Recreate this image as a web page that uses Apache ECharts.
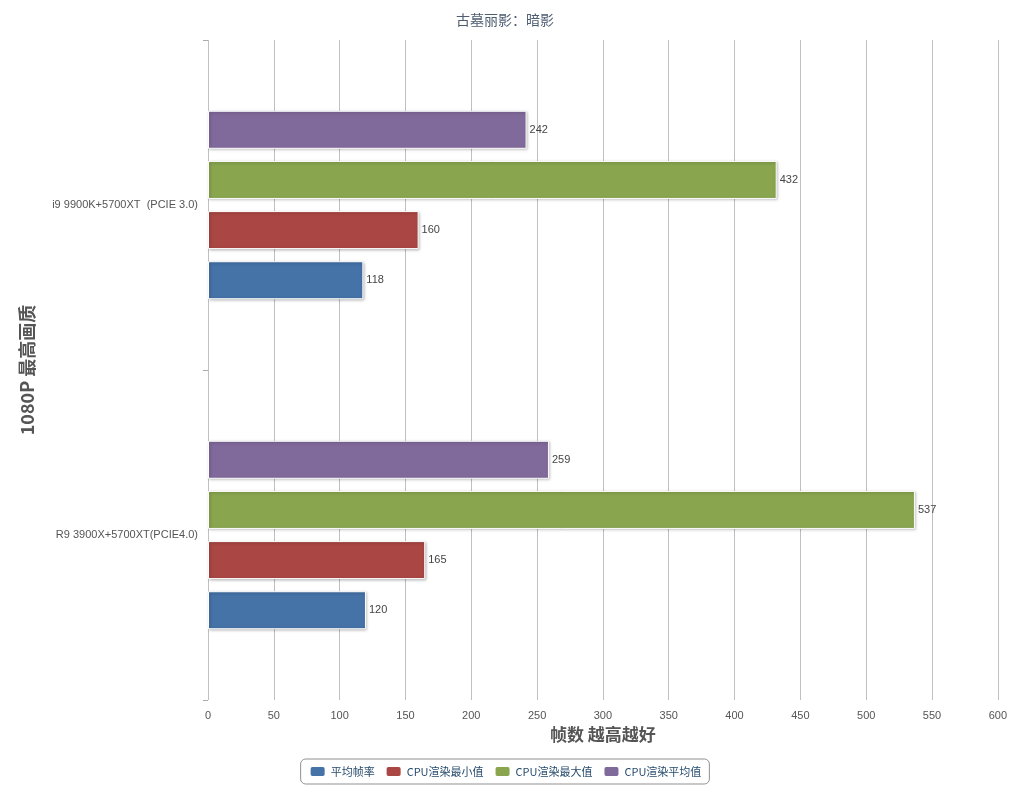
<!DOCTYPE html>
<html><head><meta charset="utf-8">
<script src="https://cdn.jsdelivr.net/npm/echarts@6/dist/echarts.min.js"></script>
<style>html,body{margin:0;padding:0;background:#fff}#c{width:1010px;height:800px}</style>
</head><body><div id="c"></div>
<script>
const categories = ['R9 3900X+5700XT(PCIE4.0)', 'i9 9900K+5700XT  (PCIE 3.0)'];
const seriesNames = ['平均帧率', 'CPU渲染最小值', 'CPU渲染最大值', 'CPU渲染平均值'];
const avgFps = [120, 118];
const cpuMin = [165, 160];
const cpuMax = [537, 432];
const cpuAvg = [259, 242];
const colors = ['#4572A7', '#AA4643', '#89A54E', '#80699B'];
const values = [avgFps, cpuMin, cpuMax, cpuAvg];
const order = [3, 2, 1, 0];
const chart = echarts.init(document.getElementById('c'));
chart.setOption({
  animation: false,
  title: {text: '古墓丽影：暗影', left: 'center', top: 8, textStyle: {fontSize: 14, fontWeight: 'normal', color: '#4d5d70', fontFamily: 'Noto Sans CJK SC'}},
  grid: {left: 208, right: 11, top: 40, bottom: 100},
  legend: {bottom: 16, itemWidth: 16, itemHeight: 11, itemGap: 10, borderColor: '#909090', borderWidth: 1, borderRadius: 5, padding: [6, 8],
    textStyle: {fontSize: 11, color: '#274b6d', fontFamily: 'Noto Sans CJK SC'}, icon: 'roundRect', data: seriesNames},
  xAxis: {type: 'value', min: 0, max: 600, interval: 50, name: '帧数 越高越好', nameLocation: 'middle', nameGap: 20,
    nameTextStyle: {fontSize: 17, fontWeight: 'bold', color: '#555', fontFamily: 'Noto Sans CJK SC'},
    axisLine: {show: false}, axisTick: {show: false},
    axisLabel: {color: '#555', fontSize: 11, margin: 10},
    splitLine: {lineStyle: {color: '#c0c0c0'}}},
  yAxis: {type: 'category', data: categories, name: '1080P 最高画质', nameLocation: 'middle', nameGap: 172, nameRotate: 90,
    nameTextStyle: {fontSize: 18, fontWeight: 'bold', color: '#555', fontFamily: 'Noto Sans CJK SC'},
    axisLine: {show: false}, axisTick: {show: true, length: 5, lineStyle: {color: '#aaa'}},
    axisLabel: {color: '#555', fontSize: 11, margin: 10}},
  series: order.map(i => ({
    name: seriesNames[i], type: 'bar', data: values[i], barWidth: 38, barGap: '32%',
    itemStyle: {color: colors[i], borderColor: '#fff', borderWidth: 1, shadowColor: 'rgba(0,0,0,0.3)', shadowBlur: 3, shadowOffsetX: 1, shadowOffsetY: 1},
    label: {show: true, position: 'right', distance: 3, color: '#444', fontSize: 11}
  }))
});
</script></body></html>
